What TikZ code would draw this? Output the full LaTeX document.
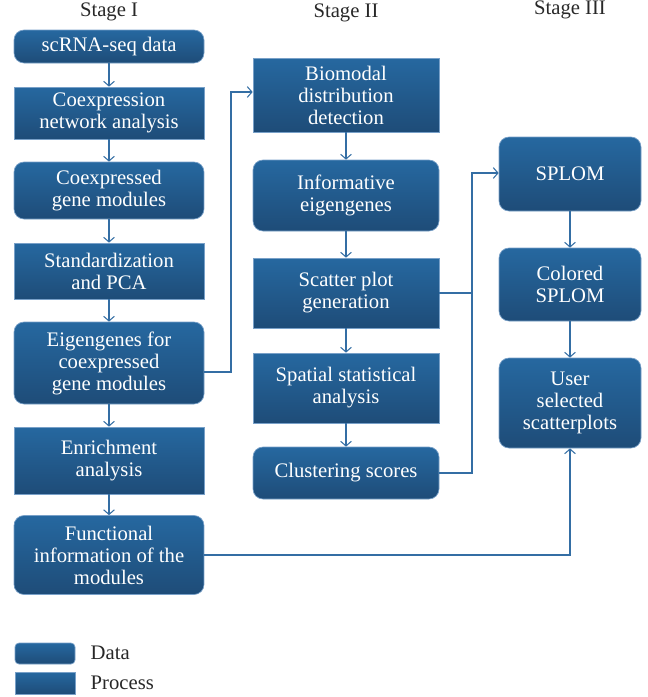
\documentclass[tikz,border=0pt]{standalone}
\usepackage{fontspec}
\setmainfont{Liberation Serif}
\usetikzlibrary{arrows.meta}

\definecolor{boxtop}{RGB}{38,104,160}
\definecolor{boxbot}{RGB}{30,76,120}
\definecolor{boxline}{RGB}{120,160,200}
\definecolor{linkcol}{RGB}{52,110,164}
\definecolor{headcol}{RGB}{40,40,40}

\tikzset{
  box/.style={draw=boxline, line width=0.5pt, top color=boxtop, bottom color=boxbot,
    text=white, align=center, inner sep=0pt, font=\fontsize{15.5}{16.5}\selectfont},
  databox/.style={box, rounded corners=7.5pt},
  procbox/.style={box},
  colI/.style={minimum width=142.5pt},
  colII/.style={minimum width=139.5pt},
  colIII/.style={minimum width=106.5pt},
  link/.style={draw=linkcol, line width=0.8pt, -{Straight Barb[length=3.5pt,width=8pt]}},
  plain/.style={draw=linkcol, line width=0.8pt},
  head/.style={text=headcol, font=\fontsize{15.5}{17}\selectfont},
}

\begin{document}
\begin{tikzpicture}[x=0.75pt,y=0.75pt,yscale=-1,xscale=1]
	\useasboundingbox (0,0) rectangle (648,697);
	
	% Stage headings
	\node[head] (hI) at (109,12) {Stage I};
	\node[head] (hII) at (346,13) {Stage II};
	\node[head] (hIII) at (570,10) {Stage III};
	
	% Stage I
	\node[databox, colI, minimum height=24.75pt] (scrna) at (109,46.5) {scRNA-seq data};
	\node[procbox, colI, minimum height=39pt] (coexnet) at (109,113) {Coexpression\\network analysis};
	\node[databox, colI, minimum height=42.75pt] (coexmod) at (109,190.5) {Coexpressed\\gene modules};
	\node[procbox, colI, minimum height=42pt] (stdpca) at (109,271) {Standardization\\and PCA};
	\node[databox, colI, minimum height=61.5pt] (eigen) at (109,363) {Eigengenes for\\coexpressed\\gene modules};
	\node[procbox, colI, minimum height=50.25pt] (enrich) at (109,460.5) {Enrichment\\analysis};
	\node[databox, colI, minimum height=59.25pt] (func) at (109,555) {Functional\\information of the\\modules};
	
	% Stage II
	\node[procbox, colII, minimum height=55.5pt] (bimodal) at (346,95) {Biomodal\\distribution\\detection};
	\node[databox, colII, minimum height=53.25pt] (inform) at (346,195.5) {Informative\\eigengenes};
	\node[procbox, colII, minimum height=52.5pt] (scatter) at (346,293) {Scatter plot\\generation};
	\node[procbox, colII, minimum height=52.5pt] (spatial) at (346,388) {Spatial statistical\\analysis};
	\node[databox, colII, minimum height=39pt] (cluster) at (346,473) {Clustering scores};
	
	% Stage III
	\node[databox, colIII, minimum height=55.5pt] (splom) at (570,174) {SPLOM};
	\node[databox, colIII, minimum height=54.75pt] (colsplom) at (570,284.5) {Colored\\SPLOM};
	\node[databox, colIII, minimum height=67.5pt] (user) at (570,403) {User\\selected\\scatterplots};
	
	% bend points
	\coordinate (e1) at (231,372);
	\coordinate (e2) at (231,92);
	\coordinate (s1) at (472,293);
	\coordinate (s2) at (472,173);
	
	% arrows down the columns
	\draw[link] (scrna) -- (coexnet);
	\draw[link] (coexnet) -- (coexmod);
	\draw[link] (coexmod) -- (stdpca);
	\draw[link] (stdpca) -- (eigen);
	\draw[link] (eigen) -- (enrich);
	\draw[link] (enrich) -- (func);
	\draw[link] (bimodal) -- (inform);
	\draw[link] (inform) -- (scatter);
	\draw[link] (scatter) -- (spatial);
	\draw[link] (spatial) -- (cluster);
	\draw[link] (splom) -- (colsplom);
	\draw[link] (colsplom) -- (user);
	
	% arrows between the columns
	\draw[link] (eigen.east |- e1) -- (e1) -- (e2) -- (bimodal.west |- e2);
	\draw[link] (scatter.east) -- (s1) -- (s2) -- (splom.west |- s2);
	\draw[plain] (cluster.east) -- (cluster.east -| s1) -- (s1);
	\draw[link] (func.east) -| (user.south);
	
	% Legend
	\node[box, rounded corners=3pt, minimum width=45pt, minimum height=15.75pt] (legdata) at (45,653.5) {};
	\node[box, minimum width=45pt, minimum height=16.5pt] (legproc) at (45,683) {};
	\node[head, anchor=west] (ldata) at (86,653) {Data};
	\node[head, anchor=west] (lproc) at (86,683) {Process};
\end{tikzpicture}
\end{document}
